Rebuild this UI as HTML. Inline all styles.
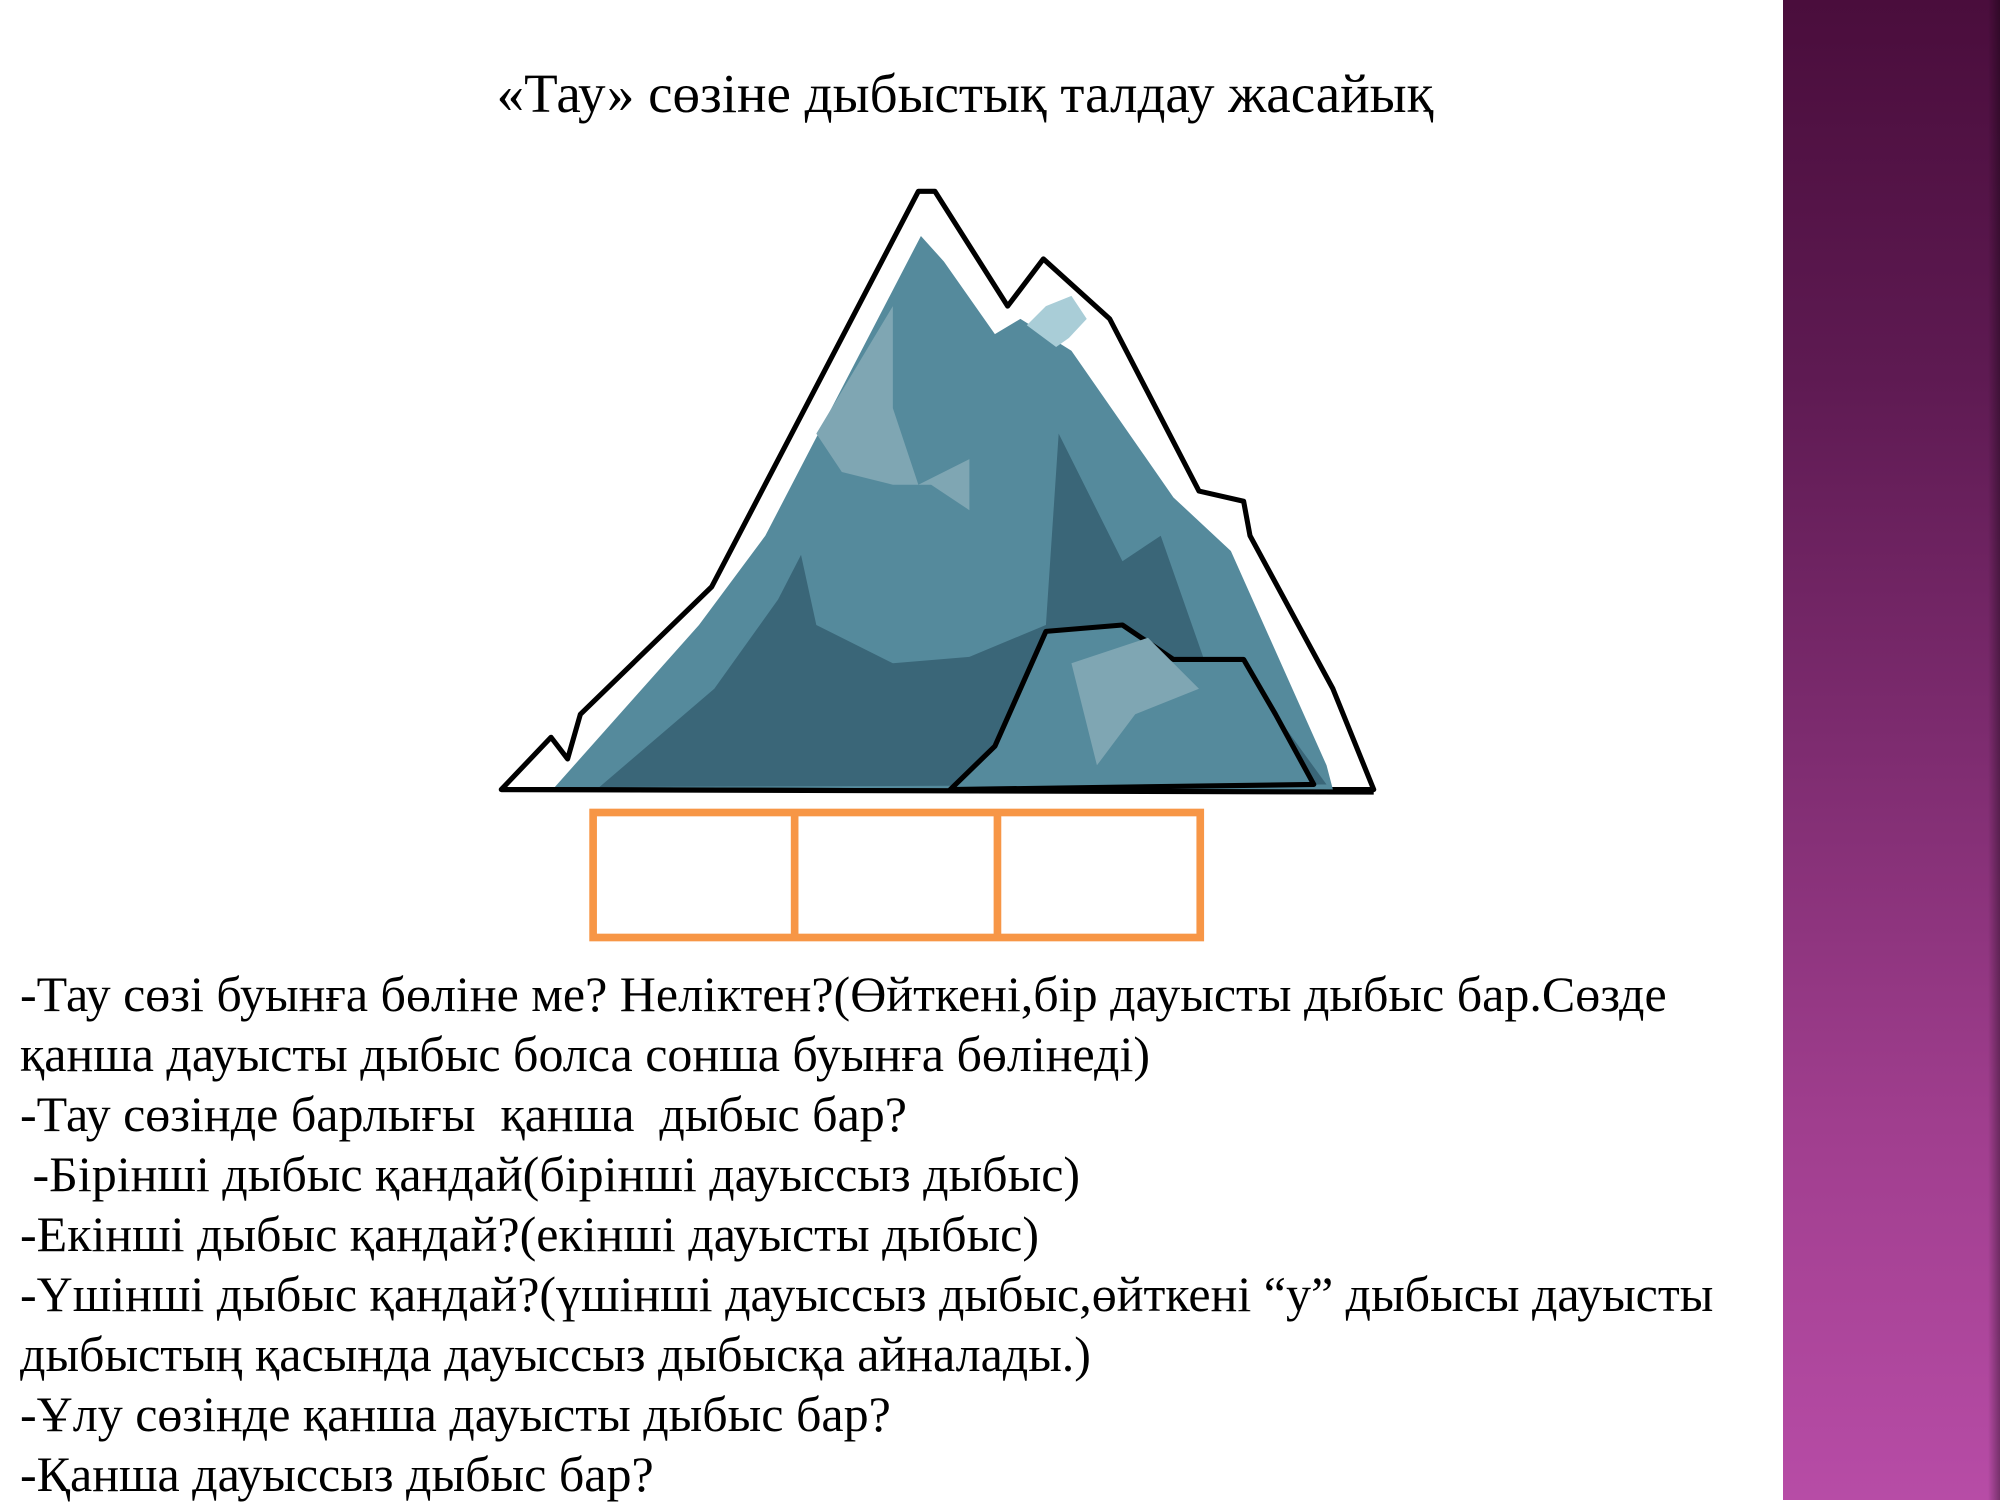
<!DOCTYPE html>
<html><head><meta charset="utf-8"><style>
html,body{margin:0;padding:0}
body{width:2000px;height:1500px;position:relative;overflow:hidden;background:#fff;font-family:"Liberation Serif",serif;color:#000}
#panel{position:absolute;left:1783px;top:0;width:217px;height:1500px;background:linear-gradient(180deg,#4a0d3c 0%,#5e1a52 25%,#7e2c70 50%,#a03e8e 75%,#b74ca6 100%)}
#panel:after{content:"";position:absolute;right:0;top:0;width:12px;height:100%;background:linear-gradient(90deg,rgba(0,0,0,0),rgba(0,0,0,.35))}
#title{position:absolute;left:0;width:1930px;text-align:center;top:64px;font-size:55px;line-height:60px;white-space:nowrap}
#txt{position:absolute;left:20px;top:964px;font-size:50px;line-height:60px;white-space:pre}
svg{position:absolute;left:0;top:0}
</style></head><body>
<div id="panel"></div>
<div id="title">«Тау» сөзіне дыбыстық талдау жасайық</div>
<svg width="2000" height="1500" viewBox="0 0 1568 1176">
<polygon points="393,619 432,578 445,595 455,560 558,460 720,150 733,150 790,240 818,203 870,250 940,385 975,393 980,420 1045,540 1077,619" fill="#fff" stroke="#000" stroke-width="4" stroke-linejoin="round"/>
<polygon points="435,617 548,490 600,420 722,185 740,205 780,262 800,250 840,275 920,390 965,432 1040,600 1045,619" fill="#558a9c"/>
<polygon points="470,617 560,540 610,470 628,435 640,490 700,520 760,515 820,490 830,340 880,440 910,420 945,520 1000,560 1040,615" fill="#3a6678"/>
<polygon points="745,619 780,585 820,495 880,490 920,517 975,517 1000,560 1030,615" fill="#558a9c" stroke="#000" stroke-width="4" stroke-linejoin="round"/>
<polygon points="840,520 900,500 940,540 890,560 860,600" fill="#7fa6b3"/>
<polygon points="640,340 700,240 700,320 720,380 760,360 760,400 730,380 700,380 660,370" fill="#7fa6b3"/>
<polygon points="805,255 820,240 840,232 852,250 838,265 828,272" fill="#a9cdd7"/>
<line x1="393" y1="619" x2="1077" y2="621" stroke="#000" stroke-width="4"/>
<g fill="none" stroke="#f79646" stroke-width="6">
<rect x="465" y="637" width="476" height="98"/>
<line x1="623" y1="637" x2="623" y2="735"/>
<line x1="782" y1="637" x2="782" y2="735"/>
</g>
</svg>
<div id="txt">-Тау сөзі буынға бөліне ме? Неліктен?(Өйткені,бір дауысты дыбыс бар.Сөзде
қанша дауысты дыбыс болса сонша буынға бөлінеді)
-Тау сөзінде барлығы  қанша  дыбыс бар?
 -Бірінші дыбыс қандай(бірінші дауыссыз дыбыс)
-Екінші дыбыс қандай?(екінші дауысты дыбыс)
-Үшінші дыбыс қандай?(үшінші дауыссыз дыбыс,өйткені “у” дыбысы дауысты
дыбыстың қасында дауыссыз дыбысқа айналады.)
-Ұлу сөзінде қанша дауысты дыбыс бар?
-Қанша дауыссыз дыбыс бар?</div>
</body></html>
